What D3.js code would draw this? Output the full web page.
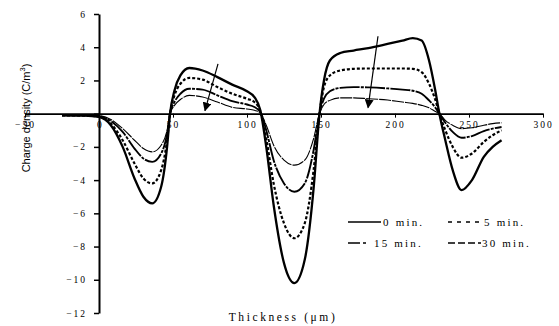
<!DOCTYPE html>
<html>
<head>
<meta charset="utf-8">
<script src="https://cdn.jsdelivr.net/npm/d3@7"></script>
<style>
  body { margin: 0; background: #fff; }
  text { font-family: "Liberation Serif", "DejaVu Serif", serif; fill: #000; }
</style>
</head>
<body>
<div id="chart"></div>
<script>
var width = 559,
    height = 326;

// thickness (um)
var thickness = [-25, -10, 0, 8, 16, 24, 30, 36, 42, 46, 48, 51, 55, 61, 70, 80, 90, 100, 105, 109,
  113, 118, 125, 132, 139, 145, 149, 152, 156, 163, 172, 182, 195, 205, 212, 218, 223, 227, 230,
  234, 239, 245, 252, 260, 266, 272];

// charge density (C/m3) per ageing time
var min0 = [-0.1, -0.12, -0.2, -0.7, -2.0, -3.9, -5.0, -5.4, -4.4, -2.0, 0, 1.4, 2.3, 2.75, 2.6, 2.2, 1.75, 1.35, 1.0, 0.2,
  -2.0, -5.5, -9.0, -10.2, -8.8, -4.5, 0, 2.0, 3.2, 3.65, 3.8, 3.95, 4.2, 4.4, 4.55, 4.4, 3.2, 1.5, 0,
  -1.6, -3.4, -4.6, -4.0, -2.6, -2.0, -1.6];
var min5 = [-0.1, -0.12, -0.18, -0.6, -1.6, -3.0, -3.9, -4.2, -3.4, -1.6, 0, 1.1, 1.8, 2.15, 2.05, 1.6, 1.2, 0.9, 0.7, 0.15,
  -1.5, -4.2, -6.6, -7.5, -6.6, -3.4, 0, 1.6, 2.3, 2.6, 2.7, 2.72, 2.72, 2.72, 2.7, 2.5, 1.8, 0.9, 0,
  -1.0, -2.0, -2.65, -2.4, -1.7, -1.3, -1.0];
var min15 = [-0.1, -0.1, -0.15, -0.45, -1.1, -2.1, -2.7, -2.9, -2.4, -1.2, 0, 0.7, 1.2, 1.5, 1.45, 1.1, 0.75, 0.55, 0.4, 0.1,
  -1.0, -2.8, -4.2, -4.7, -4.2, -2.2, 0, 0.9, 1.35, 1.55, 1.6, 1.58, 1.52, 1.45, 1.38, 1.2, 0.8, 0.4, 0,
  -0.55, -1.1, -1.45, -1.35, -1.05, -0.9, -0.8];
var min30 = [-0.1, -0.1, -0.12, -0.35, -0.9, -1.6, -2.1, -2.3, -1.9, -1.0, 0, 0.5, 0.85, 1.1, 1.0, 0.7, 0.38, 0.28, 0.2, 0.05,
  -0.7, -1.9, -2.8, -3.1, -2.8, -1.5, 0, 0.55, 0.8, 0.95, 0.95, 0.9, 0.82, 0.7, 0.62, 0.5, 0.35, 0.15, 0,
  -0.4, -0.7, -0.9, -0.85, -0.7, -0.6, -0.55];

var seriesNames = ["0 min.", "5 min.", "15 min.", "30 min."];
var xTicks = [-50, 0, 50, 100, 150, 200, 250, 300];
var yTicks = [-12, -10, -8, -6, -4, -2, 0, 2, 4, 6];

// arrows: [x0, y0, x1, y1] in data units
var arrows = [[80.4, 3.0, 71.6, 0.18], [188.5, 4.66, 181.8, 0.36]];

var styles = [
  {dash: null, w: 2.3, legDash: null, legW: 1.4},
  {dash: "3,2", w: 2.2, legDash: "4,5", legW: 1.6},
  {dash: "20,1.2,3,1.2", w: 1.9, legDash: "12,3,3,30", legW: 1.6},
  {dash: "12,1", w: 1.1, legDash: "7,3", legW: 1.4}
];

var svg = d3.select('#chart')
  .append("svg")
  .attr("width", width)
  .attr("height", height);

svg.append("defs").append("marker")
  .attr("id", "head")
  .attr("viewBox", "0 0 10 10")
  .attr("refX", 9).attr("refY", 5)
  .attr("markerWidth", 9).attr("markerHeight", 9)
  .attr("markerUnits", "userSpaceOnUse")
  .attr("orient", "auto")
  .append("path")
  .attr("d", "M0,0 L10,5 L0,10 Z")
  .attr("fill", "#000");

var x = d3.scaleLinear().domain([-50, 300]).range([25, 543]);
var y = d3.scaleLinear().domain([-12, 6]).range([313, 14]);

// x axis at y=0
var xAxis = svg.append("g")
  .attr("transform", "translate(0," + y(0) + ")")
  .call(d3.axisBottom(x).tickValues(xTicks).tickSize(4).tickSizeOuter(0).tickPadding(4));
xAxis.select(".domain").attr("stroke-width", 1.6);
xAxis.selectAll("text")
  .style("font-size", "9.5px")
  .style("letter-spacing", "2px")
  .style("font-family", "Liberation Serif");

// y axis at x=0
var yAxis = svg.append("g")
  .attr("transform", "translate(" + x(0) + ",0)")
  .call(d3.axisLeft(y).tickValues(yTicks).tickSize(5).tickSizeOuter(0).tickPadding(7));
yAxis.select(".domain").attr("stroke-width", 2);
yAxis.selectAll(".tick line").attr("stroke-width", 1.5);
yAxis.selectAll("text")
  .style("font-size", "9.5px")
  .style("letter-spacing", "2px")
  .style("font-family", "Liberation Serif");
yAxis.selectAll(".tick").filter(function(d) { return d === 0; }).select("text").remove();
xAxis.selectAll(".tick").filter(function(d) { return d === 0; }).select("text")
  .attr("dx", "0.1em");

var data = [min0, min5, min15, min30].map(function(vals, i) {
  return {name: seriesNames[i], values: thickness.map(function(t, j) { return [t, vals[j]]; })};
});

var line = d3.line()
  .x(function(d) { return x(d[0]); })
  .y(function(d) { return y(d[1]); })
  .curve(d3.curveMonotoneX);

svg.selectAll(".curve")
  .data(data)
  .enter().append("path")
  .attr("class", "curve")
  .attr("fill", "none")
  .attr("stroke", "#000")
  .attr("stroke-width", function(d, i) { return styles[i].w; })
  .attr("stroke-dasharray", function(d, i) { return styles[i].dash; })
  .attr("d", function(d) { return line(d.values); });

svg.selectAll(".arrow")
  .data(arrows)
  .enter().append("line")
  .attr("class", "arrow")
  .attr("x1", function(d) { return x(d[0]); })
  .attr("y1", function(d) { return y(d[1]); })
  .attr("x2", function(d) { return x(d[2]); })
  .attr("y2", function(d) { return y(d[3]); })
  .attr("stroke", "#000")
  .attr("stroke-width", 1.2)
  .attr("marker-end", "url(#head)");

// legend
var legendPos = [[348, 222, 383], [448, 222, 484], [348, 243, 374], [448, 243, 482]];
var leg = svg.selectAll(".leg")
  .data(seriesNames)
  .enter().append("g")
  .attr("class", "leg");
leg.append("line")
  .attr("x1", function(d, i) { return legendPos[i][0]; })
  .attr("x2", function(d, i) { return i === 2 ? 367 : legendPos[i][0] + 33; })
  .attr("y1", function(d, i) { return legendPos[i][1]; })
  .attr("y2", function(d, i) { return legendPos[i][1]; })
  .attr("stroke", "#000")
  .attr("stroke-width", function(d, i) { return styles[i].legW; })
  .attr("stroke-dasharray", function(d, i) { return styles[i].legDash; });
leg.append("text")
  .attr("x", function(d, i) { return legendPos[i][2]; })
  .attr("y", function(d, i) { return legendPos[i][1] + 4; })
  .style("font-size", "11px")
  .style("letter-spacing", "2.2px")
  .text(function(d) { return d; });

// axis titles
var yt = svg.append("text")
  .attr("transform", "translate(30,118) rotate(-90)")
  .attr("text-anchor", "middle")
  .style("font-family", "Liberation Sans")
  .style("font-size", "11px");
yt.append("tspan").text("Charge density (C/m");
yt.append("tspan").attr("dy", "-5").style("font-size", "7.5px").text("3");
yt.append("tspan").attr("dy", "5").text(")");

svg.append("text")
  .attr("x", 283)
  .attr("y", 321)
  .attr("text-anchor", "middle")
  .style("font-size", "11.5px")
  .style("letter-spacing", "2.6px")
  .text("Thickness (\u03bcm)");
</script>
</body>
</html>
